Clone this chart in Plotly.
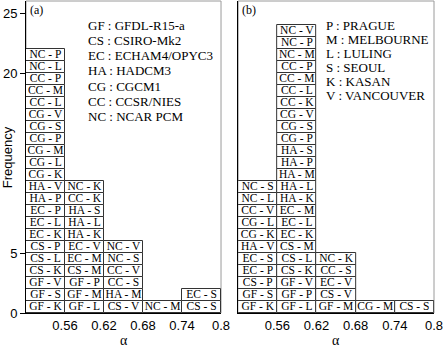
import plotly.graph_objects as go

# ── data ───────────────────────────────────────────────────────
bin_starts = [0.50, 0.56, 0.62, 0.68, 0.74]
bin_width = 0.06

# panel (a): boxes per bin, bottom to top
panel_a = [
    ["GF - K", "GF - S", "GF - V", "CS - K", "CS - L", "CS - P", "EC - K", "EC - L",
     "EC - P", "HA - P", "HA - V", "CG - K", "CG - L", "CG - M", "CG - P", "CG - S",
     "CG - V", "CC - L", "CC - M", "CC - P", "NC - L", "NC - P"],
    ["GF - L", "GF - M", "GF - P", "CS - M", "EC - M", "EC - V", "HA - K", "HA - L",
     "HA - S", "CC - K", "NC - K"],
    ["CS - V", "HA - M", "CC - S", "CC - V", "NC - S", "NC - V"],
    ["NC - M"],
    ["CS - S", "EC - S"],
]

# panel (b)
panel_b = [
    ["GF - K", "GF - S", "CS - P", "EC - P", "EC - S", "HA - V", "CG - K", "CG - L",
     "CC - V", "NC - L", "NC - S"],
    ["GF - L", "GF - P", "GF - V", "CS - K", "CS - L", "CS - M", "EC - K", "EC - L",
     "EC - M", "HA - K", "HA - L", "HA - M", "HA - P", "HA - S", "CG - P", "CG - S",
     "CG - V", "CC - K", "CC - L", "CC - M", "CC - P", "NC - M", "NC - P", "NC - V"],
    ["GF - M", "CS - V", "EC - V", "CC - S", "NC - K"],
    ["CG - M"],
    ["CS - S"],
]

models = ["GF : GFDL-R15-a", "CS : CSIRO-Mk2", "EC : ECHAM4/OPYC3", "HA : HADCM3",
          "CG : CGCM1", "CC : CCSR/NIES", "NC : NCAR PCM"]
cities = ["P : PRAGUE", "M : MELBOURNE", "L : LULING", "S : SEOUL",
          "K : KASAN", "V : VANCOUVER"]

x_ticks = [0.56, 0.62, 0.68, 0.74, 0.8]
x_ticktext = ["0.56", "0.62", "0.68", "0.74", "0.8"]
y_ticks = [0, 5, 20, 25]

SERIF = "Liberation Serif"
SANS = "Liberation Sans"

fig = go.Figure()


def add_panel(bins, xa, ya):
    xs, bases, labels = [], [], []
    for start, boxes in zip(bin_starts, bins):
        for i, lab in enumerate(boxes):
            xs.append(start + bin_width / 2)
            bases.append(i)
            labels.append(lab)
    fig.add_trace(go.Bar(
        x=xs, y=[1] * len(xs), base=bases, width=bin_width,
        marker=dict(color="white", line=dict(color="#333333", width=1)),
        showlegend=False, hoverinfo="skip", xaxis=xa, yaxis=ya,
    ))
    fig.add_trace(go.Scatter(
        x=xs, y=[b + 0.5 for b in bases], text=labels, mode="text",
        textposition="middle center",
        textfont=dict(family=SERIF, size=11.5, color="black"),
        showlegend=False, hoverinfo="skip", xaxis=xa, yaxis=ya,
    ))


add_panel(panel_a, "x", "y")
add_panel(panel_b, "x2", "y2")

xcommon = dict(range=[0.50, 0.80], tickvals=x_ticks, ticktext=x_ticktext,
               ticks="", showline=True, linecolor="black", linewidth=1,
               showgrid=False, zeroline=False, automargin=False,
               ticklabeloverflow="allow",
               tickfont=dict(family=SANS, size=13, color="black"))
topcommon = dict(range=[0.50, 0.80], tickvals=x_ticks, ticks="inside", ticklen=5,
                 tickcolor="black", showticklabels=False, showline=False,
                 showgrid=False, zeroline=False, side="top", automargin=False)

fig.update_layout(
    width=443, height=348,
    margin=dict(l=26, r=9, t=1, b=35),
    plot_bgcolor="white", paper_bgcolor="white",
    bargap=0, barmode="overlay",
    xaxis=dict(domain=[0, 0.478], anchor="y", **xcommon),
    xaxis2=dict(domain=[0.520, 1], anchor="y2", **xcommon),
    xaxis3=dict(overlaying="x", anchor="y", **topcommon),
    xaxis4=dict(overlaying="x2", anchor="y2", **topcommon),
    yaxis=dict(range=[0, 26], tickvals=y_ticks, ticks="outside", ticklen=5,
               tickcolor="black", showline=True, linecolor="black", linewidth=1,
               showgrid=False, zeroline=False, automargin=False,
               tickfont=dict(family=SANS, size=13, color="black")),
    yaxis2=dict(range=[0, 26], anchor="x2", showticklabels=False, ticks="",
                showline=True, linecolor="black", linewidth=1,
                showgrid=False, zeroline=False, automargin=False),
    font=dict(family=SANS, size=13, color="black"),
)

# gray frame on top/right of each panel
for x0, x1 in [(0, 0.478), (0.520, 1)]:
    fig.add_shape(type="rect", xref="paper", yref="paper", x0=x0, x1=x1, y0=0, y1=1,
                  line=dict(color="#9a9a9a", width=1), layer="below")

# axis titles
fig.add_annotation(text="Frequency", xref="paper", yref="paper", x=-0.046, y=0.5,
                   textangle=-90, xanchor="center", yanchor="middle", showarrow=False,
                   font=dict(family=SANS, size=13, color="black"))
for xc in [0.239, 0.760]:
    fig.add_annotation(text="α", xref="paper", yref="paper", x=xc, y=-0.088,
                       xanchor="center", yanchor="middle", showarrow=False,
                       font=dict(family=SERIF, size=14, color="black"))

# panel labels
for txt, xp in [("(a)", 0.005), ("(b)", 0.525)]:
    fig.add_annotation(text=txt, xref="paper", yref="paper", x=xp, y=1.0,
                       xanchor="left", yanchor="top", showarrow=False,
                       font=dict(family=SERIF, size=12, color="black"))

# key texts
for i, t in enumerate(models):
    fig.add_annotation(text=t, xref="paper", yref="paper", x=0.147,
                       y=0.923 - i * 0.049, xanchor="left", yanchor="middle",
                       showarrow=False, font=dict(family=SERIF, size=13, color="black"))
for i, t in enumerate(cities):
    fig.add_annotation(text=t, xref="paper", yref="paper", x=0.730,
                       y=0.923 - i * 0.045, xanchor="left", yanchor="middle",
                       showarrow=False, font=dict(family=SERIF, size=13, color="black"))

fig.write_html("out.html", config={"displayModeBar": False},
               post_script="document.body.style.margin='0';")
